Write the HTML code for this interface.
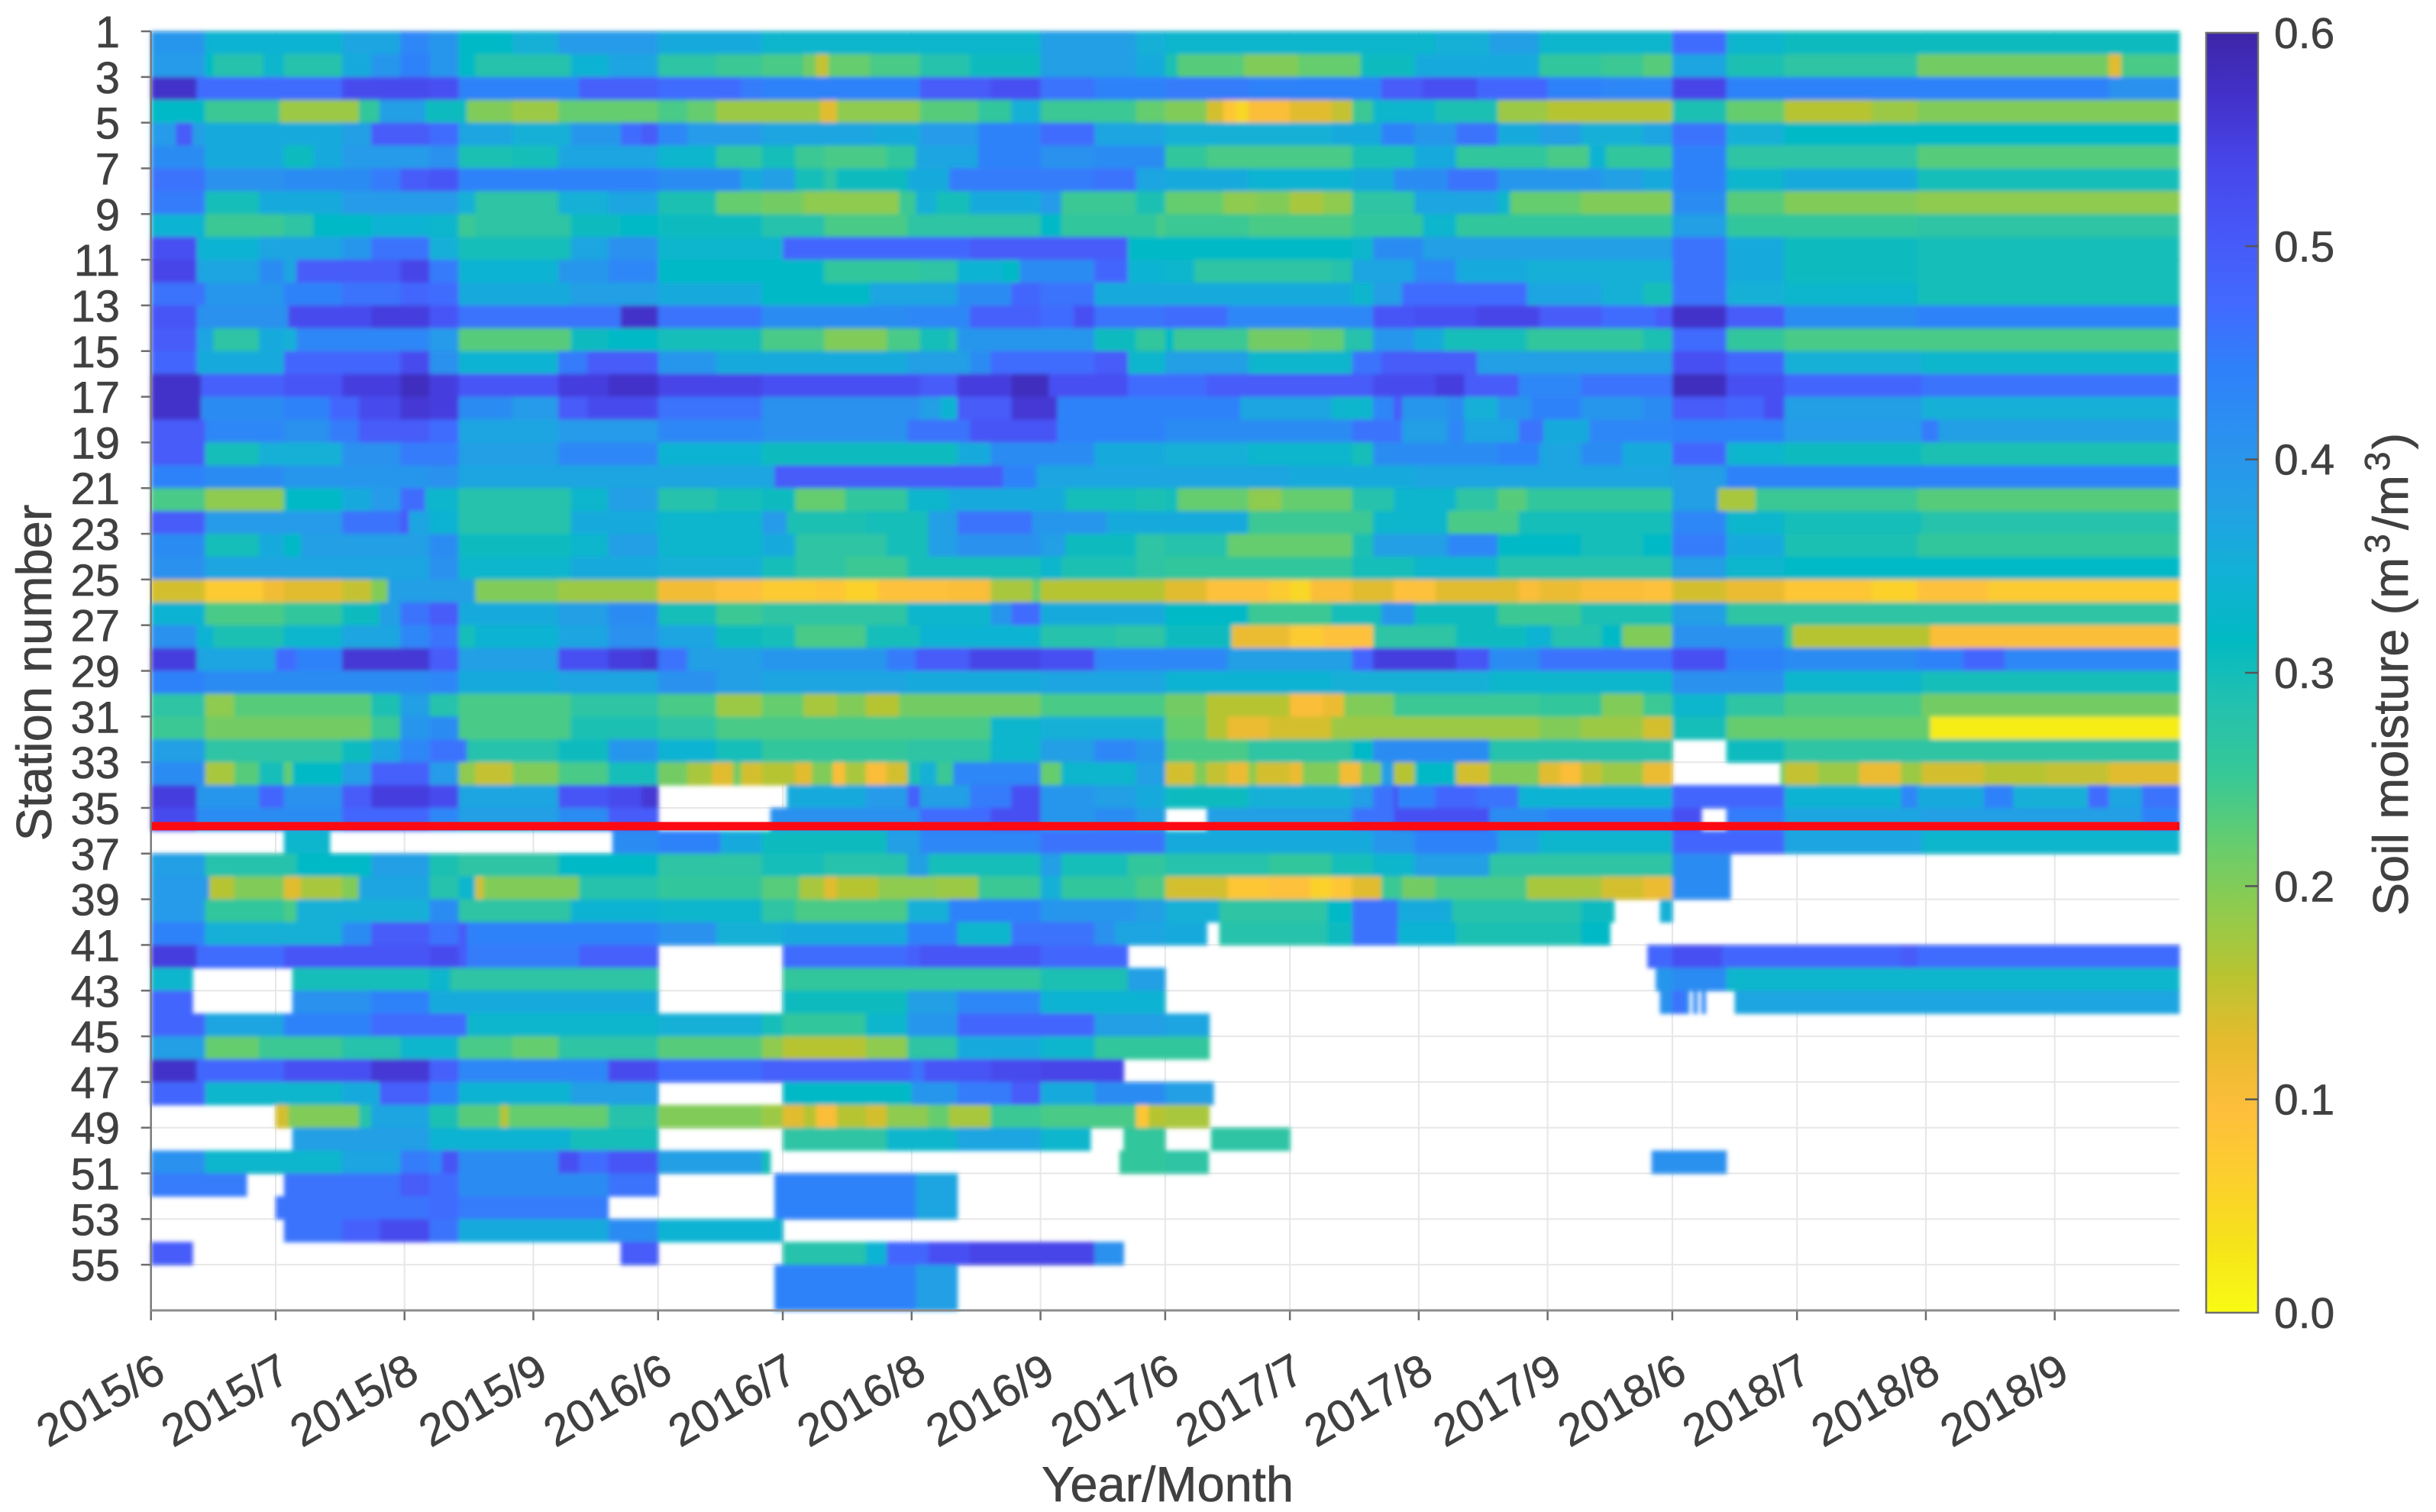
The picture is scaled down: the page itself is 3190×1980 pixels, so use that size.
<!DOCTYPE html>
<html lang="en">
<head>
<meta charset="utf-8">
<title>Soil moisture by station</title>
<style>
html,body{margin:0;padding:0;background:#fff;}
svg{display:block;}
text{font-family:"Liberation Sans",Arial,sans-serif;fill:#404040;stroke:#404040;stroke-width:0.6;}
</style>
</head>
<body>
<svg id="chart" xmlns="http://www.w3.org/2000/svg" width="3190" height="1980" viewBox="0 0 3190 1980">
<defs>
<filter id="soft" filterUnits="userSpaceOnUse" x="150" y="0" width="2760" height="1760"><feGaussianBlur stdDeviation="2.8"/></filter>
<linearGradient id="cbGrad" x1="0" y1="0" x2="0" y2="1"></linearGradient>
</defs>
<g id="grid"></g>
<g id="heat" filter="url(#soft)"></g>
<g id="axes"></g>
<g id="cbar"></g>
<text x="1529" y="1966" font-size="65" text-anchor="middle">Year/Month</text>
<text transform="translate(67,881) rotate(-90)" font-size="65" text-anchor="middle">Station number</text>
<text transform="translate(3153,883) rotate(-90)" font-size="65" text-anchor="middle">Soil moisture (m<tspan font-size="46" dx="5" dy="-24">3</tspan><tspan dx="5" dy="24">/m</tspan><tspan font-size="46" dx="5" dy="-24">3</tspan><tspan dx="3" dy="24">)</tspan></text>
</svg>
<script>
const _ = null;
// Each station row: start day within the season, moisture (0.01 m3/m3), start day, moisture ...
// A run lasts until the next start day or the end of the 122-day season; _ marks missing data.
const moisture2015 = [
[0,40,13,34,46,37,60,43,67,40,74,32,87,35,98,39],
[0,39,13,32,15,28,27,33,32,28,46,36,53,40,60,44,67,40,74,32,78,28,101,34,110,37],
[0,57,11,47,46,53,67,52,74,44,103,49],
[0,32,13,25,31,18,50,26,55,38,66,31,76,20,87,18,98,22],
[0,39,6,50,10,38,13,36,46,38,53,50,67,47,74,37,87,35,101,40,113,47,118,50],
[0,42,13,36,32,31,39,36,46,39,67,41,74,29,87,30,98,37],
[0,46,13,41,32,42,53,45,60,50,67,51,74,44],
[0,45,13,30,26,36,46,39,74,35,78,27,98,35,110,37],
[0,34,13,25,32,27,39,32,53,34,67,33,74,25,78,27,101,31,113,32],
[0,52,11,34,26,37,46,40,53,46,67,35,74,30,101,37,110,41],
[0,54,11,37,26,42,32,37,35,50,60,54,67,45,74,34,98,40,110,43],
[0,46,13,40,32,44,46,46,60,48,67,47,74,36,101,38],
[0,51,11,41,33,53,53,55,67,51,74,46,113,57],
[0,50,11,37,15,27,26,36,32,35,35,43,67,39,74,23,101,31,110,32],
[0,48,11,36,32,48,60,53,67,41,74,34,98,45,105,50],
[0,57,12,49,32,51,46,55,60,58,67,55,74,51,98,55,110,57],
[0,57,12,42,32,44,43,48,50,53,60,56,67,55,74,42,87,39,98,50,105,53],
[0,50,13,43,32,41,43,45,50,50,67,47,74,37,98,39],
[0,50,13,30,26,35,46,41,60,45,74,38,98,43],
[0,44,13,42,32,40,67,41,74,37],
[0,24,13,19,32,32,46,36,53,39,60,47,66,33,74,28,101,33,110,38],
[0,50,13,39,46,46,60,50,62,37,67,34,74,28,101,36],
[0,42,13,30,26,36,32,32,36,38,67,42,74,31,101,33,110,38],
[0,41,13,37,67,41,74,33,101,36],
[0,14,13,7,27,11,32,13,46,15,53,20,57,38,78,20,98,18],
[0,34,13,24,32,26,46,31,55,38,60,46,67,50,74,36,98,38,110,42],
[0,41,11,34,15,29,32,33,46,37,60,43,67,46,74,30,78,34,98,37,110,41],
[0,55,11,37,30,47,35,44,46,56,67,50,74,38,98,52,110,55,118,56],
[0,44,13,42,67,43,74,36,98,37],
[0,27,13,19,20,23,53,29,60,38,67,28,74,24,101,27],
[0,25,13,21,53,25,60,40,67,42,74,24,101,29],
[0,38,13,27,46,31,53,37,60,43,67,46,76,28,98,31,110,40],
[0,42,13,17,20,23,26,30,32,22,34,32,46,38,53,49,67,39,74,19,78,15,87,20,98,24,110,30],
[0,55,11,40,26,48,32,41,46,50,53,55,67,53,74,37,98,51,110,53,118,56],
[0,53,11,42,46,48,67,43,74,38,98,42,110,50],
[0,_,32,33,43,_,111,42],
[0,38,13,28,35,32,53,38,67,29,74,27,98,32],
[0,39,14,16,20,20,32,13,36,17,46,20,50,37,67,28,74,33,78,14,80,20,103,28],
[0,39,13,26,32,24,35,35,67,42,74,27,101,34],
[0,44,13,35,46,42,53,50,67,46,74,50,76,44],
[0,55,11,47,32,51,67,53,74,50,76,45,103,49],
[0,33,10,_,34,30,67,33,72,27],
[0,48,10,_,34,41,53,44,67,36],
[0,48,13,37,32,44,53,47,76,33],
[0,38,13,22,26,25,46,28,60,33,74,24,87,22,98,27],
[0,57,11,48,32,52,53,56,67,49,74,43,110,53],
[0,48,13,33,46,36,55,49,67,44,74,34,101,38],
[0,_,30,14,33,20,50,28,53,37,67,29,74,23,84,16,86,22,110,28],
[0,_,34,38,67,34,101,30],
[0,41,13,33,46,37,60,45,67,43,70,51,74,42,98,52,103,47,110,51],
[0,45,23,_,32,46,60,50,67,47,74,42,110,46],
[0,_,30,46,67,47,74,45,110,_],
[0,_,32,46,46,49,55,53,67,46,74,36,110,42],
[0,50,10,_,113,50],
[0,_],
[0,_]
];
const moisture2016 = [
[0,36,25,33,92,38,115,35],
[0,27,14,25,25,24,35,21,38,15,41,22,51,24,63,28,75,31,92,38,115,36],
[0,47,20,45,25,44,63,50,80,52,92,46,105,44],
[0,24,7,22,14,18,39,13,43,19,63,23,77,26,85,35,92,25,115,22],
[0,43,7,39,25,37,52,36,63,39,77,44,92,47,105,37],
[0,33,14,26,25,30,33,25,40,24,55,26,62,37,77,44,92,41,105,42],
[0,42,20,36,25,38,33,30,40,27,43,31,60,36,70,45,105,46,115,37],
[0,29,14,22,25,21,35,19,58,25,62,35,67,30,75,36,92,39,97,25,115,29],
[0,31,25,28,40,24,60,27,92,32,97,26,120,24],
[0,33,30,48,75,50,113,32],
[0,32,40,26,63,27,72,34,83,32,87,42,105,48,113,34],
[0,36,25,32,51,37,72,42,85,48,92,46,105,36],
[0,46,25,42,60,43,75,49,92,47,100,52,105,46],
[0,30,25,24,40,20,55,24,63,30,70,28,72,40,105,31,115,26],
[0,40,14,36,60,38,75,42,80,47,105,50,113,33],
[0,54,25,52,63,50,72,55,85,58,94,52,113,47],
[0,46,25,41,63,38,68,34,72,50,85,56,96,44],
[0,43,25,41,60,46,75,51,96,44],
[0,34,25,31,72,36,80,42,105,36],
[0,37,28,50,83,44,91,37],
[0,28,14,30,25,31,33,22,45,26,60,33,70,36,98,30,115,29],
[0,33,25,39,31,29,50,30,65,38,72,46,90,40,108,36],
[0,33,25,36,33,27,55,30,65,38,72,41,92,38,98,31,115,27],
[0,35,25,30,33,27,45,25,60,30,92,33,97,29,115,27],
[0,11,14,9,25,7,38,8,45,6,53,9,70,10,80,17,90,22,92,16],
[0,30,14,25,25,27,60,33,80,40,85,47,92,36],
[0,37,14,31,25,30,33,24,50,30,63,34,92,28,110,27],
[0,46,7,38,25,40,55,45,62,50,75,54,92,52,105,43],
[0,41,14,38,25,37,60,36,92,37],
[0,24,14,18,25,22,35,17,43,20,50,16,58,21,92,24],
[0,27,14,24,60,24,80,33,92,35],
[0,34,14,30,25,26,60,27,80,33,92,38,105,43,115,40],
[0,21,7,17,13,13,18,21,20,14,25,16,33,13,37,20,42,10,45,17,50,10,55,14,60,29,63,35,67,25,71,43,92,22,97,33,115,38],
[0,_,31,36,50,39,60,49,63,38,75,45,85,52,92,40,105,38,115,36],
[0,_,27,41,63,47,80,52,92,40,105,42,115,38],
[0,44,15,36,25,31,55,38,63,43,92,46],
[0,27,25,30,40,28,60,38,65,30,92,38,97,30,113,26],
[0,26,25,23,34,17,40,13,43,16,53,19,67,18,77,25,92,35,97,26,115,24],
[0,33,25,27,33,24,60,35,70,44,92,40,115,38],
[0,41,14,35,30,36,60,44,72,33,85,46,105,41,110,37],
[0,_,30,47,60,49,63,51,92,48,113,_],
[0,_,30,26,92,29,113,38],
[0,_,30,31,60,38,72,43,92,34],
[0,35,25,30,30,26,50,33,60,40,72,48,105,38],
[0,23,25,19,30,16,50,19,60,27,72,36,92,33,105,26],
[0,47,25,49,61,46,64,51,80,53,92,54,112,_],
[0,_,30,32,61,40,72,45,85,50,92,36,105,42],
[0,20,25,18,30,13,35,16,38,10,43,16,50,14,55,19,65,22,70,17,80,25,92,24,115,8,118,16],
[0,_,30,27,55,33,72,37,92,33,104,_,112,26],
[0,38,25,30,27,_,111,26],
[0,_,28,44,62,37,72,_],
[0,_,28,44,62,37,72,_],
[0,34,30,_],
[0,_,30,28,50,34,55,48,65,52,75,54,105,41,112,_],
[0,_,28,44,62,38,72,_],
[0,_,28,44,62,38,72,_]
];
const moisture2017 = [
[0,33,65,35,78,38,90,33],
[0,29,3,23,19,20,32,22,47,31,60,36,90,26,105,25,115,23],
[0,45,20,44,52,50,62,52,75,48,92,44,105,43],
[0,20,10,14,14,8,17,5,20,10,30,13,40,15,45,25,50,33,65,29,80,18,92,16],
[0,35,40,36,52,44,60,40,70,46,80,36,90,38,100,35,115,37],
[0,26,10,24,45,29,60,36,70,26,92,24,102,34,106,26],
[0,36,20,34,45,36,55,42,68,46,80,40,105,38,115,36],
[0,22,14,19,22,20,30,17,38,19,45,27,60,37,80,33,83,22,100,20],
[0,25,20,24,45,26,62,33,70,26],
[0,32,45,33,50,42,62,38,87,38],
[0,33,7,27,40,28,45,37,60,43,70,36,87,35],
[0,36,45,33,50,38,57,47,75,47,87,37,105,35,115,30],
[0,47,15,43,50,51,60,52,75,54,90,50,105,47,118,50],
[0,32,2,25,20,21,35,22,43,28,50,40,60,36,67,30,87,26,115,29],
[0,38,20,33,45,46,52,50,75,38],
[0,47,10,50,50,53,65,55,72,50,85,43,100,46],
[0,44,18,37,40,33,50,43,55,50,57,40,68,42,72,35,80,40,88,44,100,40,115,42],
[0,42,45,46,57,38,68,43,72,37,85,46,91,36,102,43],
[0,35,20,33,45,30,50,42,80,44,90,37,100,42,110,36],
[0,37,30,36,60,37],
[0,30,3,22,20,19,28,22,45,28,55,33,70,27,80,23,87,26],
[0,36,20,25,50,33,68,24,85,30],
[0,28,15,22,45,29,50,38,68,43,80,32,100,30,115,32],
[0,26,45,30,60,33,80,28],
[0,13,10,9,25,7,30,5,35,10,45,13,55,9,65,13,85,10,90,12,100,10,115,9],
[0,32,20,25,40,30,52,40,60,31,80,25,100,29],
[0,31,16,12,30,7,38,9,50,27,70,31,87,34,93,28,105,32,110,20],
[0,43,15,38,45,48,50,55,70,51,78,42,90,46],
[0,34,40,35,78,33],
[0,21,10,16,30,10,38,12,43,20,55,25,90,26,105,20,115,25],
[0,22,10,16,15,12,25,14,40,18,90,20,100,18,115,14],
[0,24,20,27,45,32,50,42,78,28],
[0,14,7,20,10,15,15,12,20,19,22,14,30,12,33,20,42,11,47,20,52,38,55,16,60,32,70,14,78,20,90,13,95,10,100,15,105,18,115,12],
[0,31,20,35,45,38,50,46,55,52,56,44,65,48,75,46,85,34],
[0,_,10,38,45,46,55,52,78,42,92,44],
[0,36,50,40,60,44,80,37,90,33],
[0,28,25,26,40,30,50,33,60,38,78,27],
[0,14,15,8,25,9,35,6,40,8,45,13,52,25,57,21,65,24,87,17,105,14,115,12],
[0,35,13,27,39,32,45,46,56,36,69,28,100,31,108,_,119,35],
[0,36,10,_,13,28,39,31,45,46,56,34,70,29,100,32,107,_],
[0,_,116,48],
[0,_,118,40],
[0,_,119,41],
[0,37,10.6,_],
[0,26,10.6,_],
[0,_],
[0,38,11.6,_],
[0,17,10.6,_],
[0,_,11,27,30,_],
[0,27,10.4,_,117,41],
[0,_],
[0,_],
[0,_],
[0,_],
[0,_],
[0,_]
];
const moisture2018 = [
[0,47,13,33,27,31],
[0,37,13,29,27,27,59,21,105,13,108,24],
[0,54,13,44,105,41],
[0,29,13,22,27,16,48,18,59,20],
[0,46,13,35,27,32],
[0,44,13,27,45,27,59,23],
[0,44,13,33,27,36,59,30],
[0,42,13,23,27,20,59,19],
[0,38,13,26,59,27],
[0,46,13,36,27,31,59,30],
[0,46,13,36,27,31,59,30],
[0,46,13,35,27,33,59,30],
[0,57,13,50,27,42,59,44],
[0,47,13,26,27,24],
[0,52,13,48,27,35,60,33],
[0,58,13,52,27,48,60,46],
[0,50,13,48,22,52,27,38,60,35],
[0,44,27,39,60,45,64,38],
[0,48,13,33,27,31,60,29],
[0,38,13,44],
[0,38,11,17,20,25,59,23],
[0,43,13,33,27,30,60,28],
[0,45,13,36,27,29,59,26],
[0,38,13,33,27,32],
[0,14,13,12,27,8,48,6,59,9,76,7],
[0,38,13,27],
[0,41,27,26,29,16,62,10],
[0,52,13,44,27,42,59,44,70,48,80,43],
[0,41,27,33,60,30],
[0,33,13,27,27,24,60,21],
[0,30,13,22,62,2],
[0,_,13,31,27,27],
[0,_,26,22,27,15,35,18,45,12,55,18,60,14,75,16,90,15,105,13],
[0,48,27,34,55,43,59,36,75,44,82,35,100,47,105,37,113,46],
[0,52,7,_,13,45,27,37,60,38,113,44],
[0,48,27,37,60,33],
[0,42,14,_],
[0,42,14,_],
[0,_],
[0,_],
[0,52,12,48,55,50,59,47],
[0,42,13,33],
[0,46,3,43,4,_,5,43,6,_,7,43,8,_,15,37],
[0,_],
[0,_],
[0,_],
[0,_],
[0,_],
[0,_],
[0,41,13,_],
[0,_],
[0,_],
[0,_],
[0,_],
[0,_],
[0,_]
];
const seasons = [moisture2015, moisture2016, moisture2017, moisture2018];
const seasonLength = 122;
const stationTicks = [1,3,5,7,9,11,13,15,17,19,21,23,25,27,29,31,33,35,37,39,41,43,45,47,49,51,53,55];
const monthTickDays = [0,30,61,92,122,152,183,214,244,274,305,336,366,396,427,458];
const monthTickLabels = ["2015/6","2015/7","2015/8","2015/9","2016/6","2016/7","2016/8","2016/9","2017/6","2017/7","2017/8","2017/9","2018/6","2018/7","2018/8","2018/9"];
const colorbarTicks = [0,0.1,0.2,0.3,0.4,0.5,0.6];
const highlightStation = 35.8;
const parulaRamp = [[62,38,168],[67,50,203],[71,71,235],[71,88,248],[66,105,254],[47,129,250],[43,145,239],[35,160,229],[18,177,214],[2,186,195],[36,193,174],[55,200,151],[100,205,111],[143,203,78],[185,196,49],[230,187,45],[254,190,60],[252,207,45],[245,227,26],[249,251,20]];

const NS = 'http://www.w3.org/2000/svg';
const plotLeft = 197.7, plotRight = 2854, plotTop = 41, plotBottom = 1716;
const cbLeft = 2889, cbRight = 2957, cbTop = 43, cbBottom = 1719;
function xScale(day){ return plotLeft + day * (plotRight - plotLeft) / (seasonLength * seasons.length); }
function yScale(station){ return plotTop + (station - 1) * (plotBottom - plotTop) / 56; }
function cbScale(v){ return cbBottom + (cbTop - cbBottom) * v / 0.6; }
function rampColor(t){
  const p = Math.max(0, Math.min(1, t)) * (parulaRamp.length - 1);
  const i = Math.min(parulaRamp.length - 2, Math.floor(p));
  const f = p - i;
  const a = parulaRamp[i], b = parulaRamp[i + 1];
  return 'rgb(' + Math.round(a[0] + (b[0] - a[0]) * f) + ',' + Math.round(a[1] + (b[1] - a[1]) * f) + ',' + Math.round(a[2] + (b[2] - a[2]) * f) + ')';
}
function moistureColor(v){ return rampColor(1 - (v / 100) / 0.6); }
function make(tag, attrs, parent){
  const el = document.createElementNS(NS, tag);
  for (const k in attrs) el.setAttribute(k, attrs[k]);
  parent.appendChild(el);
  return el;
}
const gridG = document.getElementById('grid');
const heatG = document.getElementById('heat');
const axesG = document.getElementById('axes');
const cbarG = document.getElementById('cbar');

stationTicks.forEach(function(s){
  const y = yScale(s);
  const gl = make('line', {x1: plotLeft, x2: plotRight, y1: y, y2: y, stroke: '#e7e7e7', 'stroke-width': 2}, gridG);
  
  
  const t = make('line', {x1: plotLeft - 13, x2: plotLeft, y1: y, y2: y, stroke: '#6e6e6e', 'stroke-width': 2.5}, axesG);
  
  
  const lab = make('text', {x: 157, y: y + 21, 'font-size': 58, 'text-anchor': 'end'}, axesG);
  lab.textContent = String(s);
  
  
});
monthTickDays.forEach(function(d, i){
  const x = xScale(d);
  const gl = make('line', {x1: x, x2: x, y1: plotTop, y2: plotBottom, stroke: '#e7e7e7', 'stroke-width': 2}, gridG);
  
  
  const t = make('line', {x1: x, x2: x, y1: plotBottom, y2: plotBottom + 13, stroke: '#6e6e6e', 'stroke-width': 2.5}, axesG);
  
  
  const lab = make('text', {transform: 'translate(' + (x + 22) + ',1806) rotate(-30)', 'font-size': 59, 'text-anchor': 'end'}, axesG);
  lab.textContent = monthTickLabels[i];
  
  
});

seasons.forEach(function(rows, si){
  rows.forEach(function(row, ri){
    for (let j = 0; j < row.length; j += 2){
      const v = row[j + 1];
      if (v === null) continue;
      const start = row[j] + si * seasonLength;
      const end = (j + 2 < row.length ? row[j + 2] : seasonLength) + si * seasonLength;
      const cell = make('rect', {x: xScale(start), y: yScale(ri + 1), width: xScale(end) - xScale(start) + 0.6, height: yScale(ri + 2) - yScale(ri + 1) + 0.6, fill: moistureColor(v)}, heatG);
      
      
    }
  });
});

const redLine = make('line', {x1: plotLeft, x2: plotRight, y1: yScale(highlightStation), y2: yScale(highlightStation), stroke: '#fb0a14', 'stroke-width': 11}, axesG);


const axisLeft = make('line', {x1: plotLeft, x2: plotLeft, y1: plotTop, y2: plotBottom, stroke: '#7a7a7a', 'stroke-width': 2.5}, axesG);


const axisBottom = make('line', {x1: plotLeft, x2: plotRight, y1: plotBottom, y2: plotBottom, stroke: '#8c8c8c', 'stroke-width': 3}, axesG);



const grad = document.getElementById('cbGrad');
parulaRamp.forEach(function(c, i){
  const st = make('stop', {offset: (i / (parulaRamp.length - 1)), 'stop-color': 'rgb(' + c.join(',') + ')'}, grad);
  
  
});
const cbRect = make('rect', {x: cbLeft, y: cbTop, width: cbRight - cbLeft, height: cbBottom - cbTop, fill: 'url(#cbGrad)', stroke: '#6f6f6f', 'stroke-width': 2.5}, cbarG);


colorbarTicks.forEach(function(v){
  const y = cbScale(v);
  if (v > 0 && v < 0.6){
    const t = make('line', {x1: cbRight - 17, x2: cbRight, y1: y, y2: y, stroke: '#555', 'stroke-width': 2.5}, cbarG);
    
    
  }
  const lab = make('text', {x: 2978, y: y + 20, 'font-size': 57}, cbarG);
  lab.textContent = v.toFixed(1);
  
  
});
</script>
</body>
</html>
